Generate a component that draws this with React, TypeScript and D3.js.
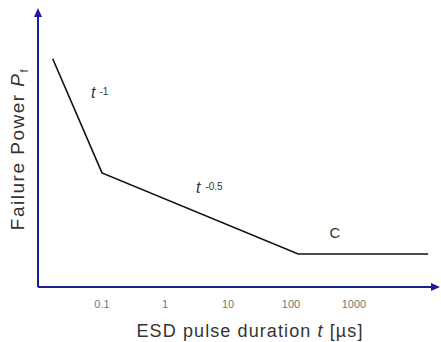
import React from "react";
import * as d3 from "d3";

const durations = [0.0165, 0.1, 130, 15000];
const powers = [83, 41.5, 12, 12];
const tickValues = [0.1, 1, 10, 100, 1000];
const tickLabels = ["0.1", "1", "10", "100", "1000"];

const W = 441;
const H = 342;
const axisX = 38;
const axisY = 287;

export default function App() {
  const x = d3.scaleLog().domain([0.1, 1000]).range([102, 354]);
  const y = d3.scaleLinear().domain([0, 100]).range([axisY, 12]);
  const pts: [number, number][] = durations.map((d, i) => [d, powers[i]]);
  const line = d3
    .line<[number, number]>()
    .x((d) => x(d[0]))
    .y((d) => y(d[1]));
  const axisColor = "#1c1c96";
  const font = "Liberation Sans, Arial, sans-serif";
  return (
    <svg width={W} height={H} style={{ position: "absolute", left: 0, top: 0, background: "#fff" }}>
      {/* axes */}
      <line x1={axisX} y1={axisY} x2={axisX} y2={16} stroke={axisColor} strokeWidth={2} />
      <path d={`M${axisX - 4},${17} L${axisX},${8} L${axisX + 4},${17} Z`} fill={axisColor} />
      <line x1={axisX} y1={axisY} x2={432} y2={axisY} stroke={axisColor} strokeWidth={2} />
      <path d={`M${431},${axisY - 4} L${440},${axisY} L${431},${axisY + 4} Z`} fill={axisColor} />
      {/* tick labels */}
      {tickValues.map((t, i) => (
        <text key={i} x={x(t)} y={308} textAnchor="middle" fontFamily={font} fontSize={11} fill="#777">
          {tickLabels[i]}
        </text>
      ))}
      {/* data line */}
      <path d={line(pts) || ""} fill="none" stroke="#111" strokeWidth={1.6} />
      {/* annotations */}
      <text x={91} y={98} fontFamily={font} fontSize={16} fill="#333">
        <tspan fontStyle="italic">t</tspan>
        <tspan fontSize={10} dx={4} dy={-3}>-1</tspan>
      </text>
      <text x={196} y={193} fontFamily={font} fontSize={16} fill="#333">
        <tspan fontStyle="italic">t</tspan>
        <tspan fontSize={10} dx={5} dy={-3}>-0.5</tspan>
      </text>
      <text x={335} y={238} textAnchor="middle" fontFamily={font} fontSize={15} fill="#333">
        C
      </text>
      {/* axis titles */}
      <text x={250} y={337} textAnchor="middle" fontFamily={font} fontSize={18} letterSpacing={1.1} fill="#333">
        ESD pulse duration <tspan fontStyle="italic">t</tspan> [µs]
      </text>
      <text
        transform={`translate(24,149) rotate(-90)`}
        textAnchor="middle"
        fontFamily={font}
        fontSize={19}
        letterSpacing={1.5}
        fill="#333"
      >
        Failure Power <tspan fontStyle="italic">P</tspan>
        <tspan fontSize={11} dy={4}>f</tspan>
      </text>
    </svg>
  );
}
